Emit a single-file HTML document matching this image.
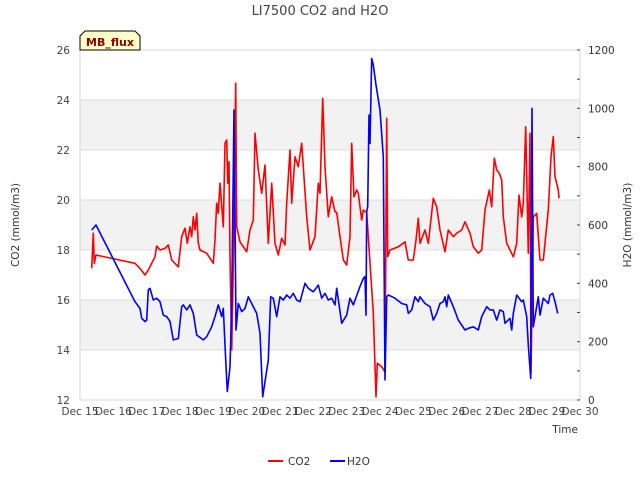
<!DOCTYPE html>
<html><head><meta charset="utf-8"><style>
body{margin:0;background:#fff;}
svg{display:block;font-family:"DejaVu Sans","Liberation Sans",sans-serif;}
</style></head><body>
<svg id="chart" width="640" height="480" viewBox="0 0 640 480">
<g id="bands"></g>
<g id="grid"></g>
<rect x="80" y="50" width="500" height="350" fill="none" stroke="#d8d8d8"/>
<g id="axes"></g>
<g id="series"></g>
<text x="320" y="15" text-anchor="middle" font-size="13" fill="#444">LI7500 CO2 and H2O</text>
<text transform="translate(19,225) rotate(-90)" text-anchor="middle" font-size="10.5" fill="#333">CO2 (mmol/m3)</text>
<text transform="translate(631,225) rotate(-90)" text-anchor="middle" font-size="10.5" fill="#333">H2O (mmol/m3)</text>
<text x="578" y="433" text-anchor="end" font-size="10.5" fill="#333">Time</text>
<g>
<path d="M80,50 L80,36 L85,31 L135,31 L140,36 L140,50 Z" fill="#ffffc8" stroke="#000" stroke-width="1"/>
<text x="110" y="46" text-anchor="middle" font-size="11" font-weight="bold" fill="#8b0000">MB_flux</text>
</g>
<g>
<line x1="268" y1="461" x2="283" y2="461" stroke="#ff0000" stroke-width="2"/>
<text x="288" y="465" font-size="10.5" fill="#333">CO2</text>
<line x1="330" y1="461" x2="345" y2="461" stroke="#0000ff" stroke-width="2"/>
<text x="347" y="465" font-size="10.5" fill="#333">H2O</text>
</g>
</svg>
<script>
const xTickLabels=["Dec 15","Dec 16","Dec 17","Dec 18","Dec 19","Dec 20","Dec 21","Dec 22","Dec 23","Dec 24","Dec 25","Dec 26","Dec 27","Dec 28","Dec 29","Dec 30"];
const leftTicks=[12,14,16,18,20,22,24,26];
const rightTicks=[0,200,400,600,800,1000,1200];
const co2Days=[0.35,0.40,0.43,0.48,1.65,1.8,1.95,2.05,2.25,2.3,2.4,2.55,2.65,2.75,2.95,3.05,3.15,3.22,3.3,3.35,3.4,3.45,3.5,3.55,3.6,3.8,4.0,4.05,4.1,4.15,4.2,4.3,4.35,4.4,4.43,4.47,4.5,4.55,4.6,4.67,4.7,4.8,5.0,5.1,5.2,5.25,5.35,5.45,5.55,5.65,5.75,5.85,5.95,6.05,6.15,6.2,6.3,6.35,6.45,6.55,6.65,6.8,6.9,7.05,7.15,7.2,7.28,7.35,7.45,7.55,7.65,7.7,7.8,7.9,8.0,8.1,8.15,8.22,8.3,8.35,8.45,8.5,8.6,8.8,8.88,8.92,9.05,9.15,9.2,9.23,9.3,9.55,9.75,9.85,10.0,10.08,10.15,10.2,10.35,10.45,10.6,10.7,10.8,10.95,11.05,11.2,11.3,11.45,11.55,11.7,11.8,11.95,12.05,12.15,12.28,12.35,12.43,12.5,12.58,12.65,12.7,12.8,12.9,13.0,13.1,13.17,13.25,13.3,13.37,13.45,13.5,13.53,13.6,13.7,13.8,13.9,14.05,14.13,14.2,14.25,14.35,14.37];
const co2Values=[17.27,18.67,17.47,17.8,17.47,17.27,17.0,17.2,17.73,18.16,18.0,18.07,18.2,17.6,17.33,18.53,18.87,18.27,18.93,18.53,19.33,18.8,19.47,18.27,18.0,17.87,17.47,18.4,19.87,19.47,20.67,18.93,22.27,22.4,20.67,21.53,17.73,14.0,17.47,24.67,18.93,18.33,17.93,18.8,19.2,22.67,21.2,20.27,21.4,18.27,20.67,18.27,17.8,18.47,18.2,19.87,22.0,19.87,21.73,21.33,22.27,19.33,18.0,18.53,20.67,20.27,24.07,21.33,19.33,20.13,19.53,19.5,18.53,17.6,17.4,18.53,22.27,20.13,20.4,20.27,19.2,19.6,19.5,15.47,12.13,13.47,13.33,13.13,23.27,17.73,18.0,18.13,18.33,17.6,17.6,18.4,19.27,18.27,18.8,18.27,20.07,19.73,18.8,17.93,18.8,18.53,18.67,18.8,19.13,18.67,18.13,17.87,18.0,19.6,20.4,19.73,21.67,21.2,21.07,20.8,19.33,18.27,18.0,17.73,18.27,20.2,19.33,19.87,22.93,17.87,22.67,13.07,19.33,19.47,17.6,17.6,19.6,21.73,22.53,20.93,20.4,20.07];
const h2oDays=[0.35,0.48,1.65,1.8,1.85,1.95,2.0,2.05,2.1,2.2,2.3,2.4,2.5,2.6,2.7,2.8,2.95,3.05,3.1,3.2,3.3,3.4,3.5,3.7,3.8,3.95,4.05,4.15,4.25,4.3,4.37,4.42,4.5,4.55,4.62,4.68,4.75,4.85,4.95,5.05,5.15,5.3,5.4,5.48,5.65,5.72,5.8,5.9,6.0,6.1,6.2,6.3,6.4,6.5,6.6,6.75,6.85,7.0,7.15,7.25,7.35,7.45,7.55,7.65,7.7,7.85,8.0,8.1,8.2,8.4,8.5,8.55,8.58,8.6,8.63,8.67,8.7,8.75,8.8,8.88,9.0,9.1,9.15,9.2,9.25,9.45,9.65,9.8,9.85,9.95,10.05,10.15,10.2,10.35,10.5,10.6,10.7,10.8,10.9,10.95,11.0,11.05,11.2,11.35,11.55,11.65,11.8,11.95,12.05,12.2,12.3,12.4,12.5,12.6,12.7,12.75,12.9,12.95,13.0,13.1,13.25,13.3,13.4,13.45,13.52,13.56,13.6,13.65,13.75,13.8,13.9,14.05,14.1,14.18,14.25,14.33];
const h2oValues=[583,600,337,314,280,269,274,377,383,343,349,337,291,286,269,206,211,320,326,309,326,297,223,206,217,251,286,326,286,314,137,29,114,331,994,240,331,303,314,354,331,297,229,11,137,354,349,286,354,343,360,349,366,343,337,400,383,371,394,349,366,343,349,326,383,263,291,349,326,389,417,423,291,646,663,977,880,1171,1149,1080,994,834,69,354,360,349,331,326,297,309,354,337,354,331,320,274,297,331,337,354,320,360,320,274,240,246,251,240,286,320,309,309,274,309,303,263,280,240,297,360,337,343,286,189,74,1000,251,286,354,291,349,331,360,366,337,297];

const NS="http://www.w3.org/2000/svg";
const X0=80,X1=580,Y0=400,Y1=50;
const xScale=d=>X0+d*(X1-X0)/15;
const yLeft=v=>Y0-(v-12)*(Y0-Y1)/14;
const yRight=v=>Y0-v*(Y0-Y1)/1200;
function mk(tag,attrs,parent){const e=document.createElementNS(NS,tag);for(const k in attrs)e.setAttribute(k,attrs[k]);parent.appendChild(e);return e;}
const bands=document.getElementById('bands'),grid=document.getElementById('grid'),axes=document.getElementById('axes'),series=document.getElementById('series');
[[14,16],[18,20],[22,24]].forEach(b=>{
  const r=mk('rect',{x:X0,y:yLeft(b[1]),width:X1-X0,height:yLeft(b[0])-yLeft(b[1]),fill:'#f2f2f2'},bands);
  
  
});
leftTicks.forEach(v=>{
  const l=mk('line',{x1:X0,x2:X1,y1:yLeft(v),y2:yLeft(v),stroke:'#dcdcdc','stroke-width':1},grid);
  
  
  const t=mk('text',{x:70,y:yLeft(v)+4,'text-anchor':'end','font-size':10.5,fill:'#444'},axes);
  t.textContent=v;
  
  
});
for(let v=0;v<=1200;v+=100){
  const l=mk('line',{x1:X1-3,x2:X1,y1:yRight(v),y2:yRight(v),stroke:'#444','stroke-width':1},axes);
  
  
}
rightTicks.forEach(v=>{
  const t=mk('text',{x:588,y:yRight(v)+4,'font-size':10.5,fill:'#333'},axes);
  t.textContent=v;
  
  
});
xTickLabels.forEach((s,i)=>{
  const t=mk('text',{x:xScale(i),y:415,'text-anchor':'middle','font-size':10.5,fill:'#444'},axes);
  t.textContent=s;
  
  
});
function line(days,vals,ys,color,name){
  const pts=days.map((d,i)=>xScale(d).toFixed(1)+','+ys(vals[i]).toFixed(1)).join(' ');
  const p=mk('polyline',{points:pts,fill:'none',stroke:color,'stroke-width':1.6,'stroke-linejoin':'round'},series);
  
  
}
line(co2Days,co2Values,yLeft,'#ff0000','co2-line');
line(h2oDays,h2oValues,yRight,'#0000ff','h2o-line');
</script>
</body></html>
